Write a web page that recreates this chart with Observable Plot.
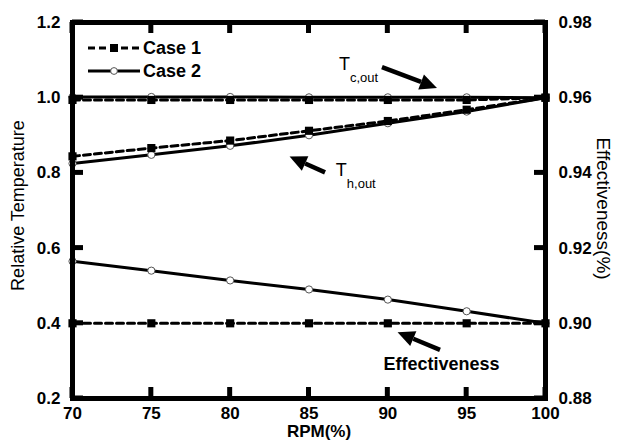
<!DOCTYPE html>
<html>
<head>
<meta charset="utf-8">
<script src="https://cdn.jsdelivr.net/npm/d3@7"></script>
<script src="https://cdn.jsdelivr.net/npm/@observablehq/plot@0.6"></script>
<style>
  html, body { margin: 0; padding: 0; background: #fff; }
</style>
</head>
<body>
<div id="chart"></div>
<script>
// ---- Data ----
const rpm = [70, 75, 80, 85, 90, 95, 100];
const tcCase1 = [0.994, 0.994, 0.994, 0.994, 0.994, 0.994, 1.0];
const tcCase2 = [1.002, 1.002, 1.002, 1.001, 1.001, 1.001, 1.0];
const thCase1 = [0.844, 0.866, 0.886, 0.912, 0.938, 0.968, 1.0];
const thCase2 = [0.825, 0.848, 0.872, 0.900, 0.932, 0.963, 1.0];
const effCase1 = [0.900, 0.900, 0.900, 0.900, 0.900, 0.900, 0.900];
const effCase2 = [0.9165, 0.914, 0.9114, 0.909, 0.9063, 0.9032, 0.900];

const xTicks = [70, 75, 80, 85, 90, 95, 100];
const yTicks = [0.2, 0.4, 0.6, 0.8, 1.0, 1.2];
const effTicks = [0.88, 0.90, 0.92, 0.94, 0.96, 0.98];

// annotations (data units)
const arrows = [
  {name: "Tc,out", x1: 89.66, y1: 1.080, x2: 93.15, y2: 1.0245},
  {name: "Th,out", x1: 86.05, y1: 0.800, x2: 83.80, y2: 0.842},
  {name: "Effectiveness", x1: 93.34, y1: 0.328, x2: 90.65, y2: 0.375}
];
const labels = [
  {main: "T", sub: "c,out", x: 86.9, y: 1.088},
  {main: "T", sub: "h,out", x: 86.7, y: 0.806}
];
const effLabel = {text: "Effectiveness", x: 93.4, y: 0.290};
const legendItems = [
  {label: "Case 1", dash: "7,4", symbol: "square"},
  {label: "Case 2", dash: null, symbol: "circle"}
];

// map right-axis (effectiveness) values onto the left scale
const effToLeft = e => 0.2 + (e - 0.88) * 10;

function series(ys, tr = d => d) {
  return rpm.map((x, i) => ({x, y: tr(ys[i])}));
}
const s = {
  tc1: series(tcCase1), tc2: series(tcCase2),
  th1: series(thCase1), th2: series(thCase2),
  ef1: series(effCase1, effToLeft), ef2: series(effCase2, effToLeft)
};

const W = 625, H = 440, ML = 72, MR = 80, MT = 22, MB = 42;
const TICK = 11;
const FONT = "'Liberation Sans', Arial, sans-serif";

const case1Line = {x: "x", y: "y", stroke: "black", strokeWidth: 3, strokeDasharray: "7,4"};
const case2Line = {x: "x", y: "y", stroke: "black", strokeWidth: 3};
const case1Dot = {x: "x", y: "y", symbol: "square", r: 4.6, fill: "black", stroke: "none"};
const case2Dot = {x: "x", y: "y", symbol: "circle", r: 3.6, fill: "white", stroke: "#555", strokeWidth: 1};
const txt = (size, weight) => ({fontFamily: FONT, fontSize: size, fontWeight: weight, fill: "black"});

// inward tick marks placed through the scales
function tickMark(index, scales) {
  const g = d3.create("svg:g");
  const top = MT, bottom = H - MB, left = ML, right = W - MR;
  const seg = (x1, y1, x2, y2) => g.append("line")
    .attr("x1", x1).attr("y1", y1).attr("x2", x2).attr("y2", y2)
    .attr("stroke", "black").attr("stroke-width", 5);
  for (const t of xTicks) {
    const x = scales.x(t);
    seg(x, bottom, x, bottom - TICK);
    seg(x, top, x, top + TICK);
  }
  for (const t of yTicks) {
    const y = scales.y(t);
    seg(left, y, left + TICK, y);
  }
  for (const t of effTicks) {
    const y = scales.y(effToLeft(t));
    seg(right, y, right - TICK, y);
  }
  return g.node();
}

function arrowMark(index, scales) {
  const g = d3.create("svg:g");
  for (const a of arrows) {
    const x1 = scales.x(a.x1), y1 = scales.y(a.y1);
    const x2 = scales.x(a.x2), y2 = scales.y(a.y2);
    const ang = Math.atan2(y2 - y1, x2 - x1);
    const hl = 17, hw = 8;
    const bx = x2 - hl * Math.cos(ang), by = y2 - hl * Math.sin(ang);
    g.append("line").attr("x1", x1).attr("y1", y1).attr("x2", bx).attr("y2", by)
      .attr("stroke", "black").attr("stroke-width", 4.5);
    const px = -Math.sin(ang) * hw, py = Math.cos(ang) * hw;
    g.append("path")
      .attr("d", `M${x2},${y2}L${bx + px},${by + py}L${bx - px},${by - py}Z`)
      .attr("fill", "black");
  }
  return g.node();
}

function legendMark(index, scales) {
  const g = d3.create("svg:g");
  const x0 = ML + 16, len = 52, y0 = MT + 26, step = 23;
  legendItems.forEach((it, i) => {
    const y = y0 + i * step;
    const line = g.append("line").attr("x1", x0).attr("x2", x0 + len).attr("y1", y).attr("y2", y)
      .attr("stroke", "black").attr("stroke-width", 3);
    if (it.dash) line.attr("stroke-dasharray", it.dash);
    const cx = x0 + len / 2;
    if (it.symbol === "square") {
      g.append("rect").attr("x", cx - 4).attr("y", y - 4).attr("width", 8).attr("height", 8).attr("fill", "black");
    } else {
      g.append("circle").attr("cx", cx).attr("cy", y).attr("r", 3.4).attr("fill", "white").attr("stroke", "#555");
    }
    g.append("text").attr("x", x0 + len + 3).attr("y", y).attr("dy", "0.36em")
      .attr("text-anchor", "start").attr("font-family", FONT)
      .attr("font-size", 18).attr("font-weight", "bold").attr("fill", "black").text(it.label);
  });
  return g.node();
}

const chart = Plot.plot({
  width: W,
  height: H,
  marginLeft: ML,
  marginRight: MR,
  marginTop: MT,
  marginBottom: MB,
  x: {domain: [70, 100], axis: null},
  y: {domain: [0.2, 1.2], axis: null},
  marks: [
    // lines
    Plot.line(s.tc1, case1Line),
    Plot.line(s.tc2, case2Line),
    Plot.line(s.th1, case1Line),
    Plot.line(s.th2, case2Line),
    Plot.line(s.ef1, case1Line),
    Plot.line(s.ef2, case2Line),
    // markers
    Plot.dot(s.tc2, case2Dot),
    Plot.dot(s.th2, case2Dot),
    Plot.dot(s.ef2, case2Dot),
    Plot.dot(s.tc1, case1Dot),
    Plot.dot(s.th1, case1Dot),
    Plot.dot(s.ef1, case1Dot),
    // inward ticks + frame
    tickMark,
    Plot.frame({stroke: "black", strokeWidth: 5}),
    // tick labels
    Plot.text(xTicks, {x: d => d, frameAnchor: "bottom", dy: 15, text: d => String(d), textAnchor: "middle", lineAnchor: "middle", ...txt(17, "bold")}),
    Plot.text(yTicks, {y: d => d, frameAnchor: "left", dx: -12, text: d3.format(".1f"), textAnchor: "end", lineAnchor: "middle", ...txt(17, "bold")}),
    Plot.text(effTicks, {y: d => effToLeft(d), frameAnchor: "right", dx: 13, text: d => d.toFixed(2), textAnchor: "start", lineAnchor: "middle", ...txt(17, "bold")}),
    // axis titles
    Plot.text(["RPM(%)"], {frameAnchor: "bottom", dy: 33, dx: 10, text: d => d, textAnchor: "middle", lineAnchor: "middle", ...txt(17, "bold")}),
    Plot.text(["Relative Temperature"], {frameAnchor: "left", dx: -54, dy: -5, rotate: -90, text: d => d, textAnchor: "middle", lineAnchor: "middle", ...txt(18, "normal")}),
    Plot.text(["Effectiveness(%)"], {frameAnchor: "right", dx: 58, dy: -2, rotate: 90, text: d => d, textAnchor: "middle", lineAnchor: "middle", ...txt(19, "normal")}),
    // annotations
    arrowMark,
    Plot.text(labels, {x: "x", y: "y", text: "main", textAnchor: "start", ...txt(18, "normal")}),
    Plot.text(labels, {x: "x", y: "y", text: "sub", textAnchor: "start", dx: 11, dy: 13, ...txt(13, "normal")}),
    Plot.text([effLabel], {x: "x", y: "y", text: "text", ...txt(18, "bold")}),
    legendMark
  ]
});
document.getElementById("chart").appendChild(chart);
</script>
</body>
</html>
